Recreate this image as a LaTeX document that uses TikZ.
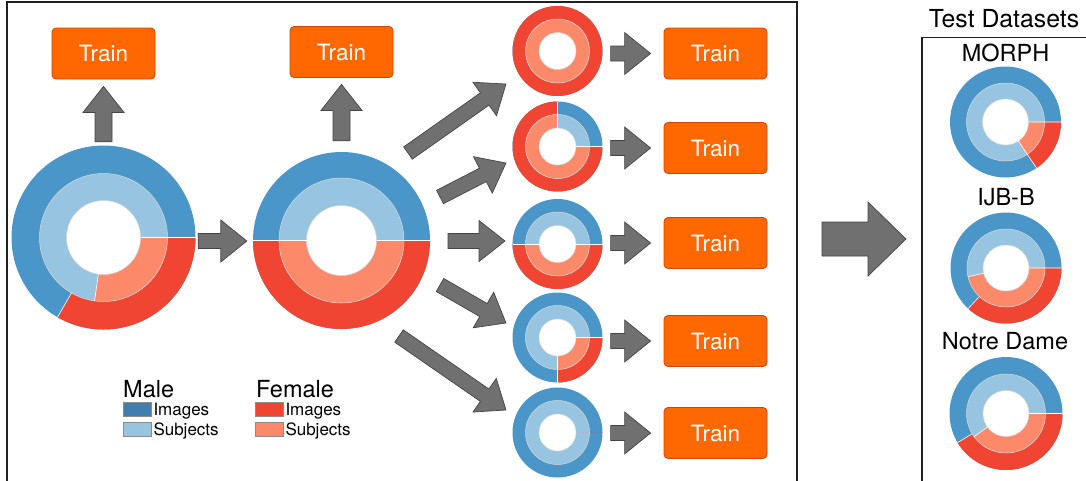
\documentclass[tikz,border=0pt]{standalone}
\usepackage{fontspec}
\setmainfont{TeX Gyre Heros}
\usetikzlibrary{calc,positioning}

\definecolor{maleimg}{RGB}{74,150,200}
\definecolor{malesub}{RGB}{151,196,224}
\definecolor{femimg}{RGB}{240,69,51}
\definecolor{femsub}{RGB}{252,138,106}
\definecolor{malekey}{RGB}{62,127,174}
\definecolor{trainfill}{RGB}{255,104,0}
\definecolor{trainedge}{RGB}{206,70,0}
\definecolor{arrowfill}{RGB}{112,112,112}
\definecolor{arrowedge}{RGB}{68,68,68}
\definecolor{framecol}{RGB}{35,31,32}

% donut: centre, outer, middle, hole, female images (deg), female subjects (deg)
\newcommand{\donut}[6]{%
  \begin{scope}[shift={(#1)}, x=1pt, y=1pt]
    \fill[maleimg] (0,0) circle (#2);
    \fill[femimg] (0,0) -- (0:#2) arc(0:-#5:#2) -- cycle;
    \fill[malesub] (0,0) circle (#3);
    \fill[femsub] (0,0) -- (0:#3) arc(0:-#6:#3) -- cycle;
    \fill[white] (0,0) circle (#4);
    \draw[white!85!black, line width=.5pt] (0,0) circle (#3);
    \draw[black!15, line width=.5pt] (0,0) circle (#4);
    \ifnum#5>0 \ifnum#5<360
      \draw[white, line width=.6pt] (0:#3) -- (0:#2) (-#5:#3) -- (-#5:#2);
    \fi\fi
    \ifnum#6>0 \ifnum#6<360
      \draw[white, line width=.6pt] (0:#4) -- (0:#3) (-#6:#4) -- (-#6:#3);
    \fi\fi
  \end{scope}}

% block arrow: tail, tip, half shaft, half head, head length
\newcommand{\fatarrow}[5]{%
  \path let \p1=($(#2)-(#1)$) in
    \pgfextra{\pgfmathsetmacro\arrlen{veclen(\x1,\y1)}\xdef\arrlen{\arrlen}%
      \pgfmathsetmacro\arrang{atan2(\y1,\x1)}\xdef\arrang{\arrang}};
  \begin{scope}[shift={(#1)}, rotate=\arrang, x=1pt, y=1pt]
    \draw[fill=arrowfill, draw=arrowedge, line width=.7pt, line join=miter]
      (0,-#3) -- (\arrlen-#5,-#3) -- (\arrlen-#5,-#4) -- (\arrlen,0)
      -- (\arrlen-#5,#4) -- (\arrlen-#5,#3) -- (0,#3) -- cycle;
  \end{scope}}

\begin{document}
\begin{tikzpicture}[x=1pt,y=-1pt,
  trainbox/.style={draw=trainedge, fill=trainfill, rounded corners=4pt,
    minimum width=103pt, minimum height=51pt, text=white, line width=.8pt,
    font=\fontsize{22.5}{26}\selectfont},
  ring/.style={circle, inner sep=0pt, minimum size=#1},
  frame/.style={draw=framecol, line width=1.8pt},
  title/.style={anchor=base, inner sep=0pt, font=\fontsize{23.5}{26}\selectfont},
  swatch/.style={draw=black!45, line width=.6pt, minimum width=28pt, minimum height=14pt, inner sep=0pt},
  keytext/.style={anchor=base west, inner sep=0pt, font=\fontsize{17}{20}\selectfont}]
\useasboundingbox (0,0) rectangle (1086,480);
\clip (0,0) rectangle (1086,480);

% frames
\draw[frame] (7,2) rectangle (797,500);
\draw[frame] (922,37.5) rectangle (1100,500);
\node[title, font=\fontsize{24.8}{28}\selectfont] (test) at (1004,27) {Test Datasets};

% training sets
\node[ring=184pt] (dA) at (103.5,237.5) {};
\node[ring=177pt] (dB) at (341.5,240.5) {};
\node[ring=90pt] (s1) at (557.5,51) {};
\node[ring=90pt] (s2) at (557.5,146.5) {};
\node[ring=90pt] (s3) at (557.5,244) {};
\node[ring=90pt] (s4) at (557.5,337.5) {};
\node[ring=90pt] (s5) at (557.5,432.5) {};
\donut{dA}{92}{64}{37}{120}{98}
\donut{dB}{88.5}{62.5}{35}{180}{180}
\donut{s1}{45}{32}{18.5}{360}{360}
\donut{s2}{45}{32}{18.5}{270}{270}
\donut{s3}{45}{32}{18.5}{180}{180}
\donut{s4}{45}{32}{18.5}{90}{90}
\donut{s5}{45}{32}{18.5}{0}{0}

\node[trainbox] (trA) at (103.5,53.5) {Train};
\node[trainbox] (trB) at (341.5,52) {Train};
\node[trainbox] (tr1) at (715.5,53.5) {Train};
\node[trainbox] (tr2) at (715.5,148) {Train};
\node[trainbox] (tr3) at (715.5,243) {Train};
\node[trainbox] (tr4) at (715.5,341) {Train};
\node[trainbox] (tr5) at (715.5,433) {Train};

% arrows
\coordinate (upA0) at ($(dA.north)+(0,-3.5)$);
\coordinate (upA1) at ($(trA.south)+(0,7)$);
\coordinate (upB0) at ($(dB.north)+(0,-11)$);
\coordinate (upB1) at ($(trB.south)+(0,6.5)$);
\coordinate (ab0) at ($(dA.east)+(2.5,3.5)$);
\coordinate (ab1) at ($(dB.west)+(-6,0.5)$);
\fatarrow{upA0}{upA1}{8.5}{20.5}{26}
\fatarrow{upB0}{upB1}{8.5}{20.5}{26}
\fatarrow{ab0}{ab1}{7.5}{21}{26}

\coordinate (b1a) at ($(dB)+(66.5,-87.5)$);
\coordinate (b1b) at ($(s1)+(-51.5,33)$);
\coordinate (b2a) at ($(dB)+(98.5,-43.5)$);
\coordinate (b2b) at ($(s2)+(-51.5,16.5)$);
\coordinate (b3a) at ($(dB)+(106.5,0.5)$);
\coordinate (b3b) at ($(s3)+(-52.5,-3)$);
\coordinate (b4a) at ($(dB)+(98.5,44.5)$);
\coordinate (b4b) at ($(s4)+(-51.5,-14.5)$);
\coordinate (b5a) at ($(dB)+(57.5,95.5)$);
\coordinate (b5b) at ($(s5)+(-51.5,-22.5)$);
\foreach \i in {1,...,5}{
  \fatarrow{b\i a}{b\i b}{7.5}{20.5}{26}
  \coordinate (t\i a) at ($(tr\i.west)+(-53,0)$);
  \coordinate (t\i b) at ($(tr\i.west)+(-13,0)$);
  \fatarrow{t\i a}{t\i b}{7.5}{21}{26}
}

\coordinate (big0) at (822,239);
\coordinate (big1) at (906,239);
\fatarrow{big0}{big1}{17}{37}{38}

% test sets
\node[title] (lm) at (1005.5,61) {MORPH};
\node[title] (li) at (1006,205) {IJB-B};
\node[title] (ln) at (1005,349) {Notre Dame};
\node[ring=112pt] (tm) at (1005.5,122) {};
\node[ring=112pt] (ti) at (1006,268) {};
\node[ring=112pt] (tn) at (1006,413.5) {};
\donut{tm}{55.5}{39}{23}{56}{56}
\donut{ti}{55.5}{39}{23}{133}{167}
\donut{tn}{56.5}{39.5}{23}{149}{144}

% legend
\node[title, anchor=base west] (male) at (123,397) {Male};
\node[title, anchor=base west] (female) at (256,397) {Female};
\node[swatch, fill=malekey] (kmi) at (137,409) {};
\node[swatch, fill=malesub] (kms) at (137,429) {};
\node[swatch, fill=femimg] (kfi) at (269,409) {};
\node[swatch, fill=femsub] (kfs) at (269,429) {};
\node[keytext] at ($(kmi.south east)+(2,-0.5)$) {Images};
\node[keytext] at ($(kms.south east)+(2,-1)$) {Subjects};
\node[keytext] at ($(kfi.south east)+(2,-0.5)$) {Images};
\node[keytext] at ($(kfs.south east)+(2,-1)$) {Subjects};
\end{tikzpicture}
\end{document}
